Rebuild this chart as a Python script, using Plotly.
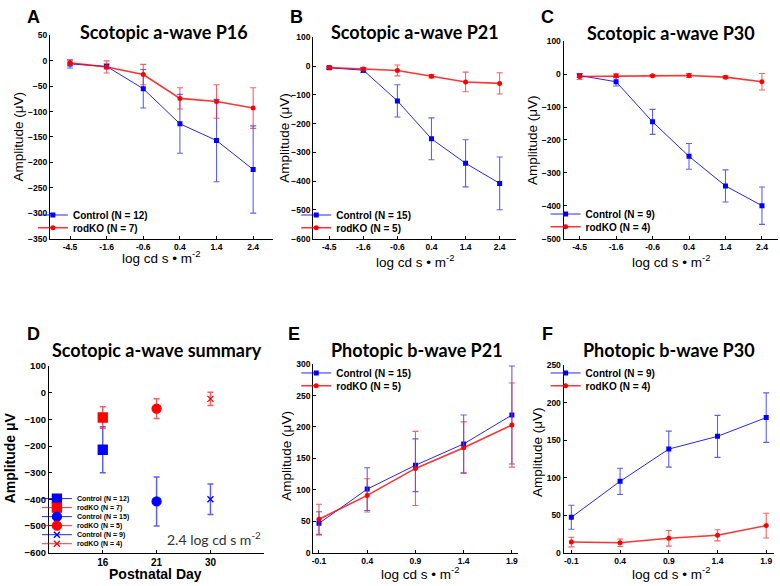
import plotly.graph_objects as go

# ---------------- DATA ----------------
scot_levels = ["-4.5", "-1.6", "-0.6", "0.4", "1.4", "2.4"]

p16_ctrl = [-6, -11, -55, -124, -157, -214]
p16_ctrl_err = [8, 5, 38, 58, 81, 86]
p16_ko = [-4, -12, -27, -74, -80, -93]
p16_ko_err = [5, 12, 20, 21, 33, 40]

p21_ctrl = [-6, -14, -121, -253, -338, -408]
p21_ctrl_err = [5, 8, 56, 73, 82, 92]
p21_ko = [-5, -10, -15, -35, -55, -60]
p21_ko_err = [3, 5, 19, 6, 34, 37]

p30_ctrl = [-4, -23, -145, -250, -340, -400]
p30_ctrl_err = [5, 13, 38, 39, 49, 57]
p30_ko = [-7, -5, -5, -4, -9, -23]
p30_ko_err = [9, 6, 3, 6, 4, 25]

days = ["16", "21", "30"]

phot_levels = [-0.1, 0.4, 0.9, 1.4, 1.9]
phot_labels = ["-0.1", "0.4", "0.9", "1.4", "1.9"]

p21b_ctrl = [46.5, 101, 139, 173, 219]
p21b_ctrl_err = [18.5, 34, 42, 46, 78]
p21b_ko = [53, 91, 134, 167, 203]
p21b_ko_err = [24, 26.5, 59, 41, 67]

p30b_ctrl = [47, 95, 138, 155, 180]
p30b_ctrl_err = [16, 17.5, 24, 28, 33]
p30b_ko = [14, 13, 19, 23, 36]
p30b_ko_err = [6.5, 5, 10.5, 7.5, 16.5]

n_ctrl = {"A": 12, "B": 15, "C": 9, "E": 15, "F": 9}
n_ko = {"A": 7, "B": 5, "C": 4, "E": 5, "F": 4}

# ---------------- STYLE ----------------
W, H = 780, 586
BLUE = "#0000ff"
RED = "#ff0000"
BLUE_LINE = "rgba(0,0,255,0.85)"
RED_LINE = "rgba(255,0,0,0.8)"
BLUE_ERR = "rgba(40,40,255,0.75)"
RED_ERR = "rgba(255,40,40,0.75)"
ARIAL = "Liberation Sans"
TITLE_FONT = "Lato"


def dx(a, b):
    return [a / W, b / W]


def dy(top, bot):
    return [1 - bot / H, 1 - top / H]


fig = go.Figure()
legend_layouts = {}
legend_counter = [0]


def new_legend(xpx, ypx, size=10):
    legend_counter[0] += 1
    name = "legend" if legend_counter[0] == 1 else "legend%d" % legend_counter[0]
    legend_layouts[name] = dict(
        x=xpx / W, y=1 - ypx / H, xanchor="left", yanchor="middle",
        bgcolor="rgba(0,0,0,0)", borderwidth=0,
        font=dict(family=ARIAL, size=size, weight="bold", color="black"),
        itemsizing="trace",
    )
    return name


def add_series(x, y, err, name, color, lcolor, ecolor, lw, symbol, msize, xa, ya, leg):
    fig.add_trace(go.Scatter(
        x=x, y=y, name=name, mode="lines+markers",
        line=dict(color=lcolor, width=lw),
        marker=dict(color=color, symbol=symbol, size=msize),
        error_y=dict(type="data", array=err, color=ecolor, thickness=1.1, width=3),
        xaxis=xa, yaxis=ya, legend=leg, showlegend=True,
    ))


# Panels A, B, C (scotopic a-wave)
scot_panels = [
    ("A", p16_ctrl, p16_ctrl_err, p16_ko, p16_ko_err, "x", "y", 53, 213),
    ("B", p21_ctrl, p21_ctrl_err, p21_ko, p21_ko_err, "x2", "y2", 317, 213),
    ("C", p30_ctrl, p30_ctrl_err, p30_ko, p30_ko_err, "x3", "y3", 567, 212),
]
for key, c, ce, k, ke, xa, ya, lx, ly in scot_panels:
    l1 = new_legend(lx - 22, ly)
    l2 = new_legend(lx - 22, ly + 13)
    add_series(scot_levels, c, ce, "Control (N = %d)" % n_ctrl[key], BLUE, BLUE_LINE, BLUE_ERR,
               1, "square", 5, xa, ya, l1)
    add_series(scot_levels, k, ke, "rodKO (N = %d)" % n_ko[key], RED, RED_LINE, RED_ERR,
               1.6, "circle", 5, xa, ya, l2)

# Panel D (summary at 2.4 log cd s m-2)
d_items = [
    ("Control (N = 12)", days[0], p16_ctrl[-1], p16_ctrl_err[-1], BLUE, BLUE_LINE, BLUE_ERR, "square", 9),
    ("rodKO (N = 7)", days[0], p16_ko[-1], p16_ko_err[-1], RED, RED_LINE, RED_ERR, "square", 9),
    ("Control (N = 15)", days[1], p21_ctrl[-1], p21_ctrl_err[-1], BLUE, BLUE_LINE, BLUE_ERR, "circle", 9),
    ("rodKO (N = 5)", days[1], p21_ko[-1], p21_ko_err[-1], RED, RED_LINE, RED_ERR, "circle", 9),
    ("Control (N = 9)", days[2], p30_ctrl[-1], p30_ctrl_err[-1], BLUE, BLUE_LINE, BLUE_ERR, "x-thin", 6),
    ("rodKO (N = 4)", days[2], p30_ko[-1], p30_ko_err[-1], RED, RED_LINE, RED_ERR, "x-thin", 6),
]
for i, (nm, xv, yv, ev, col, lcol, ecol, sym, ms) in enumerate(d_items):
    leg = new_legend(35, 502 + i * 9.2, size=7)
    fig.add_trace(go.Scatter(
        x=[xv], y=[yv], name=nm, mode="lines+markers",
        line=dict(color=lcol, width=1),
        marker=dict(color=col, symbol=sym, size=ms, line=dict(color=col, width=1.3)),
        error_y=dict(type="data", array=[ev], color=ecol, thickness=1.5, width=3),
        xaxis="x4", yaxis="y4", legend=leg, showlegend=True,
    ))

# Panels E, F (photopic b-wave)
phot_panels = [
    ("E", p21b_ctrl, p21b_ctrl_err, p21b_ko, p21b_ko_err, "x5", "y5", 318, 374),
    ("F", p30b_ctrl, p30b_ctrl_err, p30b_ko, p30b_ko_err, "x6", "y6", 568, 374),
]
for key, c, ce, k, ke, xa, ya, lx, ly in phot_panels:
    l1 = new_legend(lx - 23, ly)
    l2 = new_legend(lx - 23, ly + 13)
    add_series(phot_levels, c, ce, "Control (N = %d)" % n_ctrl[key], BLUE, BLUE_LINE, BLUE_ERR,
               1, "square", 5, xa, ya, l1)
    add_series(phot_levels, k, ke, "rodKO (N = %d)" % n_ko[key], RED, RED_LINE, RED_ERR,
               1.6, "circle", 5, xa, ya, l2)

# ---------------- AXES ----------------
def axis(**kw):
    base = dict(showline=True, linecolor="black", linewidth=1, ticks="inside", ticklen=3,
                tickcolor="black", showgrid=False, zeroline=False, mirror=False,
                tickfont=dict(family=ARIAL, size=8.5, weight="bold", color="black"))
    base.update(kw)
    return base


layout_axes = dict(
    xaxis=axis(domain=dx(48, 272), anchor="y", type="category", categoryorder="array",
               categoryarray=scot_levels, range=[-0.55, 5.55]),
    yaxis=axis(domain=dy(30, 237), anchor="x", range=[-350, 50], dtick=50),
    xaxis2=axis(domain=dx(312, 515), anchor="y2", type="category", categoryorder="array",
                categoryarray=scot_levels, range=[-0.47, 5.47]),
    yaxis2=axis(domain=dy(32, 237), anchor="x2", range=[-600, 100], dtick=100),
    xaxis3=axis(domain=dx(563, 778), anchor="y3", type="category", categoryorder="array",
                categoryarray=scot_levels, range=[-0.44, 5.44]),
    yaxis3=axis(domain=dy(36, 237), anchor="x3", range=[-500, 100], dtick=100),
    xaxis4=axis(domain=dx(47, 263), anchor="y4", type="category", categoryorder="array",
                categoryarray=days, range=[-1, 3],
                tickfont=dict(family=ARIAL, size=10, weight="bold", color="black")),
    yaxis4=axis(domain=dy(367, 557), anchor="x4", range=[-600, 100], dtick=100,
                tickfont=dict(family=ARIAL, size=9.5, weight="bold", color="black")),
    xaxis5=axis(domain=dx(312, 517), anchor="y5", range=[-0.16, 1.96],
                tickvals=phot_levels, ticktext=phot_labels),
    yaxis5=axis(domain=dy(365, 557), anchor="x5", range=[0, 300], dtick=50),
    xaxis6=axis(domain=dx(563, 774), anchor="y6", range=[-0.18, 1.98],
                tickvals=phot_levels, ticktext=phot_labels),
    yaxis6=axis(domain=dy(366, 557), anchor="x6", range=[0, 250], dtick=50),
)

# ---------------- TEXT ----------------
annotations = []


def txt(text, xpx, ypx, size, family=ARIAL, weight="normal", angle=0, color="black", xanchor="center"):
    annotations.append(dict(
        text=text, x=xpx / W, y=1 - ypx / H, xref="paper", yref="paper",
        xanchor=xanchor, yanchor="middle", showarrow=False, textangle=angle,
        font=dict(family=family, size=size, weight=weight, color=color),
    ))


# panel letters
for letter, lx, ly in [("A", 32, 11), ("B", 295, 11), ("C", 547, 11),
                       ("D", 32, 334), ("E", 293, 334), ("F", 547, 334)]:
    txt(letter, lx, ly, 18, weight="bold")

# titles
for t, tx, ty in [("Scotopic a-wave P16", 162, 27), ("Scotopic a-wave P21", 414, 27),
                  ("Scotopic a-wave P30", 671, 28), ("Scotopic a-wave summary", 155, 351),
                  ("Photopic b-wave P21", 416, 351), ("Photopic b-wave P30", 669, 351)]:
    txt(t, tx, ty, 18, family=TITLE_FONT, weight="bold")

# y titles
for yx, yy in [(17, 133), (283, 134), (532, 137), (285, 458), (537, 455)]:
    txt("Amplitude (\u03bcV)", yx, yy, 13.5, angle=-90)
txt("Amplitude \u03bcV", 8, 460, 14, weight="bold", angle=-90)

# x titles
xlab = "log cd s \u2022 m<sup>-2</sup>"
for xx, xy in [(159, 256), (414, 260), (671, 260), (419, 578), (671, 578)]:
    txt(xlab, xx, xy, 13.5)
txt("Postnatal Day", 154, 578.5, 14, weight="bold")

txt("2.4 log cd s m<sup>-2</sup>", 213, 543, 14, family=TITLE_FONT, color="#333333")

fig.update_layout(
    width=W, height=H, margin=dict(l=0, r=0, t=0, b=0),
    paper_bgcolor="white", plot_bgcolor="white",
    annotations=annotations, showlegend=True,
    **layout_axes, **legend_layouts,
)

fig.write_html(
    "out.html",
    config={"displayModeBar": False},
    post_script="document.body.style.margin='0';document.body.style.overflow='hidden';",
)
